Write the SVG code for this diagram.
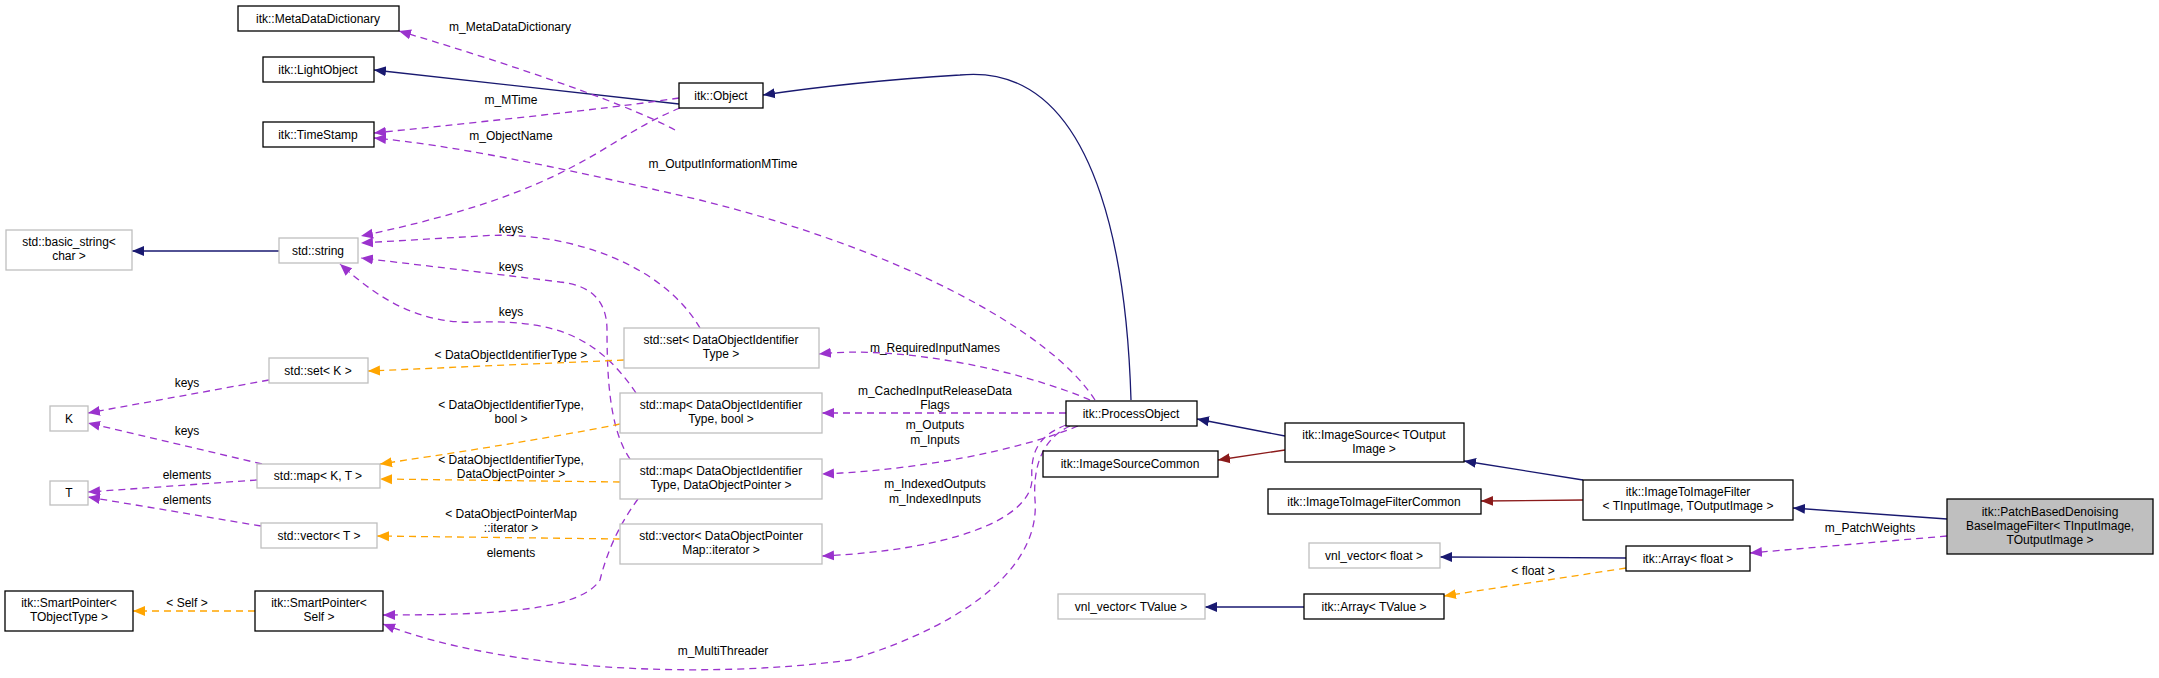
<svg xmlns="http://www.w3.org/2000/svg" width="2159" height="678" viewBox="0 0 2159 678">
<style>
text{font-family:"Liberation Sans",Arial,sans-serif;font-size:12px;text-anchor:middle;fill:#000}
.n rect{fill:#fff;stroke:#000;stroke-width:1.3}
.u rect{fill:#fff;stroke:#bfbfbf;stroke-width:1.3}
.e path{fill:none;stroke-width:1.3}
.nv{stroke:#191970}
.dr{stroke:#8b1a1a}
.pu{stroke:#9a32cd;stroke-dasharray:7,5}
.or{stroke:#ffa500;stroke-dasharray:7,5}
</style>
<defs>
<marker id="aN" markerUnits="userSpaceOnUse" markerWidth="14" markerHeight="12" refX="12" refY="6" orient="auto"><path d="M0,1 L12,6 L0,11 z" fill="#191970"/></marker>
<marker id="aR" markerUnits="userSpaceOnUse" markerWidth="14" markerHeight="12" refX="12" refY="6" orient="auto"><path d="M0,1 L12,6 L0,11 z" fill="#8b1a1a"/></marker>
<marker id="aP" markerUnits="userSpaceOnUse" markerWidth="14" markerHeight="12" refX="12" refY="6" orient="auto"><path d="M0,1 L12,6 L0,11 z" fill="#9a32cd"/></marker>
<marker id="aO" markerUnits="userSpaceOnUse" markerWidth="14" markerHeight="12" refX="12" refY="6" orient="auto"><path d="M0,1 L12,6 L0,11 z" fill="#ffa500"/></marker>
</defs>
<rect width="2159" height="678" fill="#fff"/>
<g id="edges" class="e">
<path class="nv" marker-end="url(#aN)" d="M679,104 L374,70"/>
<path class="pu" marker-end="url(#aP)" d="M675,130 C620,100 480,55 399,31"/>
<path class="pu" marker-end="url(#aP)" d="M679,98 C600,110 450,125 374,133"/>
<path class="pu" marker-end="url(#aP)" d="M680,108 C600,140 580,190 361,236"/>
<path class="pu" marker-end="url(#aP)" d="M1095,400 C1050,330 900,250 700,200 C550,165 450,145 374,138"/>
<path class="nv" marker-end="url(#aN)" d="M1131,400 C1128,300 1110,60 960,75 C880,80 810,88 763,95"/>
<path class="nv" marker-end="url(#aN)" d="M279,251 L132,251"/>
<path class="pu" marker-end="url(#aP)" d="M700,328 C660,260 560,230 480,236 L361,243"/>
<path class="pu" marker-end="url(#aP)" d="M630,459 C610,430 607,380 607,330 C607,300 590,285 560,282 C480,272 420,265 361,258"/>
<path class="pu" marker-end="url(#aP)" d="M636,393 C600,340 560,320 480,322 C420,325 380,300 340,264"/>
<path class="or" marker-end="url(#aO)" d="M624,360 L368,371"/>
<path class="or" marker-end="url(#aO)" d="M620,424 C540,440 440,455 380,464"/>
<path class="or" marker-end="url(#aO)" d="M620,482 L380,479"/>
<path class="or" marker-end="url(#aO)" d="M620,539 L377,536"/>
<path class="pu" marker-end="url(#aP)" d="M269,380 L88,413"/>
<path class="pu" marker-end="url(#aP)" d="M262,464 L88,423"/>
<path class="pu" marker-end="url(#aP)" d="M257,480 L88,492"/>
<path class="pu" marker-end="url(#aP)" d="M261,526 L88,497"/>
<path class="or" marker-end="url(#aO)" d="M255,611 L133,611"/>
<path class="pu" marker-end="url(#aP)" d="M638,499 C615,530 605,560 600,580 C580,610 500,615 383,615"/>
<path class="pu" marker-end="url(#aP)" d="M1090,400 C1020,370 900,345 819,354"/>
<path class="pu" marker-end="url(#aP)" d="M1066,413 L822,413"/>
<path class="pu" marker-end="url(#aP)" d="M1078,426 C1020,450 920,470 822,474"/>
<path class="pu" marker-end="url(#aP)" d="M1066,425 C1040,435 1030,450 1032,480 C1030,520 950,550 822,556"/>
<path class="pu" marker-end="url(#aP)" d="M1070,426 C1040,440 1033,470 1035,500 C1040,560 980,620 850,660 C700,680 500,670 383,624"/>
<path class="nv" marker-end="url(#aN)" d="M1285,436 L1197,419"/>
<path class="dr" marker-end="url(#aR)" d="M1285,450 L1218,460"/>
<path class="nv" marker-end="url(#aN)" d="M1583,480 L1464,461"/>
<path class="dr" marker-end="url(#aR)" d="M1583,500 L1481,501"/>
<path class="nv" marker-end="url(#aN)" d="M1947,519 L1793,508"/>
<path class="pu" marker-end="url(#aP)" d="M1947,536 L1750,553"/>
<path class="nv" marker-end="url(#aN)" d="M1626,558 L1440,557"/>
<path class="or" marker-end="url(#aO)" d="M1626,568 L1444,596"/>
<path class="nv" marker-end="url(#aN)" d="M1304,607 L1205,607"/>
</g>
<g id="edge-labels">
<text x="510" y="31">m_MetaDataDictionary</text>
<text x="511" y="104">m_MTime</text>
<text x="511" y="140">m_ObjectName</text>
<text x="723" y="168">m_OutputInformationMTime</text>
<text x="511" y="233">keys</text>
<text x="511" y="271">keys</text>
<text x="511" y="316">keys</text>
<text x="187" y="387">keys</text>
<text x="187" y="435">keys</text>
<text x="187" y="479">elements</text>
<text x="187" y="504">elements</text>
<text x="511" y="359">&lt; DataObjectIdentifierType &gt;</text>
<text x="511" y="409">&lt; DataObjectIdentifierType,</text>
<text x="511" y="423">bool &gt;</text>
<text x="511" y="464">&lt; DataObjectIdentifierType,</text>
<text x="511" y="478">DataObjectPointer &gt;</text>
<text x="511" y="518">&lt; DataObjectPointerMap</text>
<text x="511" y="532">::iterator &gt;</text>
<text x="511" y="557">elements</text>
<text x="187" y="607">&lt; Self &gt;</text>
<text x="723" y="655">m_MultiThreader</text>
<text x="935" y="352">m_RequiredInputNames</text>
<text x="935" y="395">m_CachedInputReleaseData</text>
<text x="935" y="409">Flags</text>
<text x="935" y="429">m_Outputs</text>
<text x="935" y="444">m_Inputs</text>
<text x="935" y="488">m_IndexedOutputs</text>
<text x="935" y="503">m_IndexedInputs</text>
<text x="1870" y="532">m_PatchWeights</text>
<text x="1533" y="575">&lt; float &gt;</text>
</g>
<g id="MetaDataDictionary" class="n"><rect x="238" y="6" width="161" height="25"/><text x="318" y="23">itk::MetaDataDictionary</text></g>
<g id="LightObject" class="n"><rect x="263" y="57" width="111" height="25"/><text x="318" y="74">itk::LightObject</text></g>
<g id="TimeStamp" class="n"><rect x="263" y="122" width="111" height="25"/><text x="318" y="139">itk::TimeStamp</text></g>
<g id="Object" class="n"><rect x="679" y="83" width="84" height="25"/><text x="721" y="100">itk::Object</text></g>
<g id="basic_string" class="u"><rect x="6" y="230" width="126" height="40"/><text x="69" y="246">std::basic_string&lt;</text><text x="69" y="260">char &gt;</text></g>
<g id="string" class="u"><rect x="279" y="238" width="79" height="25"/><text x="318" y="255">std::string</text></g>
<g id="setK" class="u"><rect x="269" y="358" width="99" height="25"/><text x="318" y="375">std::set&lt; K &gt;</text></g>
<g id="K" class="u"><rect x="50" y="406" width="38" height="25"/><text x="69" y="423">K</text></g>
<g id="mapKT" class="u"><rect x="257" y="464" width="123" height="24"/><text x="318" y="480">std::map&lt; K, T &gt;</text></g>
<g id="T" class="u"><rect x="50" y="481" width="38" height="24"/><text x="69" y="497">T</text></g>
<g id="vectorT" class="u"><rect x="261" y="523" width="116" height="25"/><text x="319" y="540">std::vector&lt; T &gt;</text></g>
<g id="SmartPointerT" class="n"><rect x="5" y="591" width="128" height="40"/><text x="69" y="607">itk::SmartPointer&lt;</text><text x="69" y="621">TObjectType &gt;</text></g>
<g id="SmartPointerSelf" class="n"><rect x="255" y="591" width="128" height="40"/><text x="319" y="607">itk::SmartPointer&lt;</text><text x="319" y="621">Self &gt;</text></g>
<g id="setDOI" class="u"><rect x="624" y="328" width="195" height="40"/><text x="721" y="344">std::set&lt; DataObjectIdentifier</text><text x="721" y="358">Type &gt;</text></g>
<g id="mapDOIbool" class="u"><rect x="620" y="393" width="202" height="40"/><text x="721" y="409">std::map&lt; DataObjectIdentifier</text><text x="721" y="423">Type, bool &gt;</text></g>
<g id="mapDOIDOP" class="u"><rect x="620" y="459" width="202" height="40"/><text x="721" y="475">std::map&lt; DataObjectIdentifier</text><text x="721" y="489">Type, DataObjectPointer &gt;</text></g>
<g id="vectorDOP" class="u"><rect x="620" y="524" width="202" height="40"/><text x="721" y="540">std::vector&lt; DataObjectPointer</text><text x="721" y="554">Map::iterator &gt;</text></g>
<g id="ProcessObject" class="n"><rect x="1066" y="401" width="131" height="25"/><text x="1131" y="418">itk::ProcessObject</text></g>
<g id="ImageSourceCommon" class="n"><rect x="1043" y="451" width="175" height="26"/><text x="1130" y="468">itk::ImageSourceCommon</text></g>
<g id="ImageSource" class="n"><rect x="1285" y="423" width="179" height="39"/><text x="1374" y="439">itk::ImageSource&lt; TOutput</text><text x="1374" y="453">Image &gt;</text></g>
<g id="ImageToImageFilterCommon" class="n"><rect x="1268" y="489" width="213" height="25"/><text x="1374" y="506">itk::ImageToImageFilterCommon</text></g>
<g id="ImageToImageFilter" class="n"><rect x="1583" y="480" width="210" height="40"/><text x="1688" y="496">itk::ImageToImageFilter</text><text x="1688" y="510">&lt; TInputImage, TOutputImage &gt;</text></g>
<g id="PatchBased" class="n"><rect x="1947" y="499" width="206" height="55" fill="#bfbfbf" style="fill:#bfbfbf"/><text x="2050" y="516">itk::PatchBasedDenoising</text><text x="2050" y="530">BaseImageFilter&lt; TInputImage,</text><text x="2050" y="544">TOutputImage &gt;</text></g>
<g id="vnlFloat" class="u"><rect x="1309" y="543" width="131" height="25"/><text x="1374" y="560">vnl_vector&lt; float &gt;</text></g>
<g id="ArrayFloat" class="n"><rect x="1626" y="546" width="124" height="25"/><text x="1688" y="563">itk::Array&lt; float &gt;</text></g>
<g id="vnlTValue" class="u"><rect x="1058" y="594" width="147" height="25"/><text x="1131" y="611">vnl_vector&lt; TValue &gt;</text></g>
<g id="ArrayTValue" class="n"><rect x="1304" y="594" width="140" height="25"/><text x="1374" y="611">itk::Array&lt; TValue &gt;</text></g>
</svg>
